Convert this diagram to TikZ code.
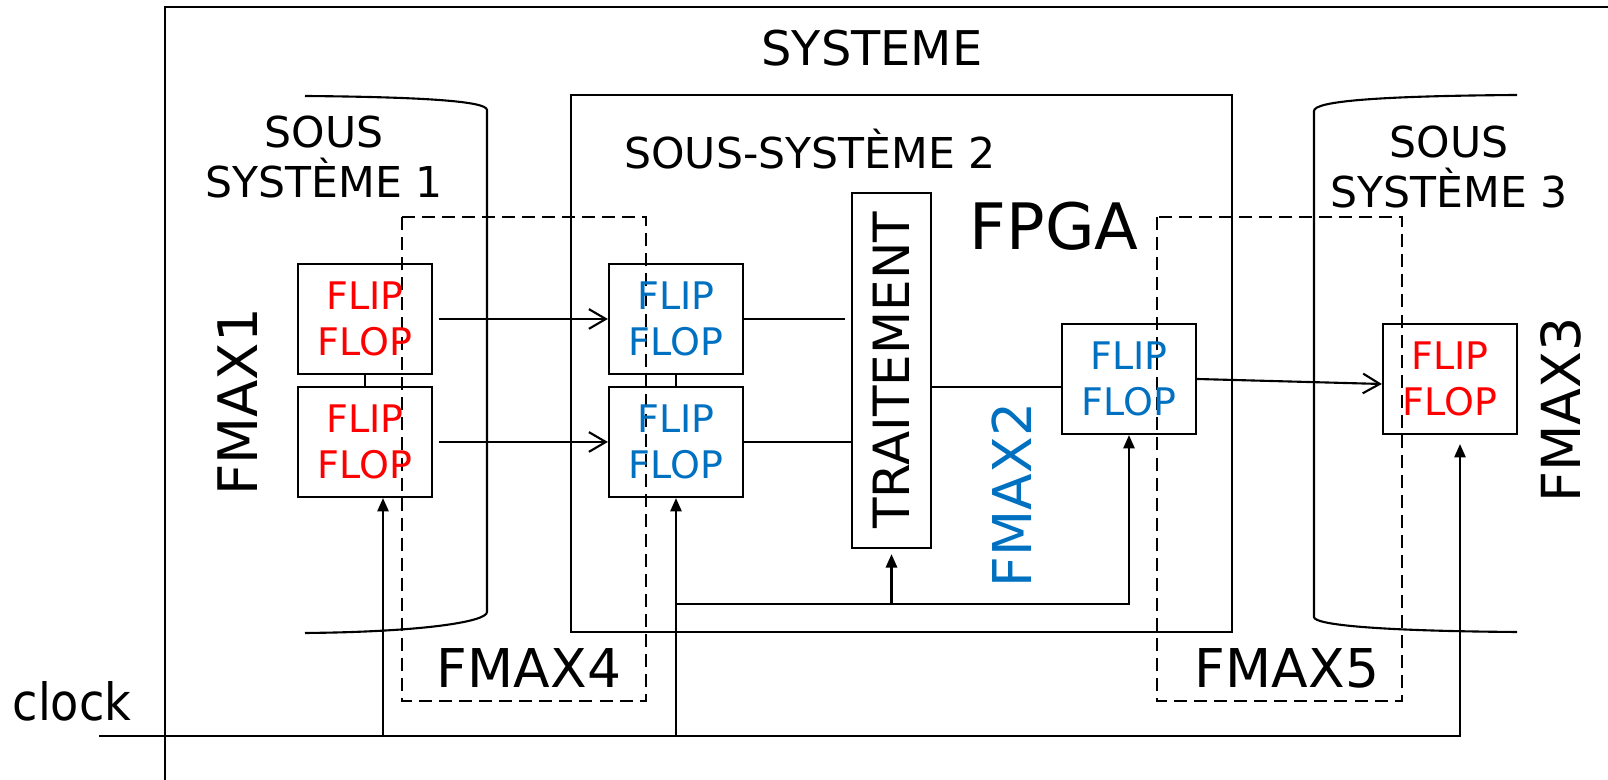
\documentclass[tikz,border=0pt]{standalone}
\usepackage{fontspec}
\setmainfont{DejaVu Sans}
\usetikzlibrary{arrows.meta,positioning,calc}
\definecolor{FFred}{HTML}{FF0000}
\definecolor{FFblue}{HTML}{0070C0}

\begin{document}
\begin{tikzpicture}[x=0.01cm,y=-0.01cm,line width=0.6pt,
  ff/.style={draw,minimum width=1.34cm,minimum height=1.1cm,inner sep=0pt,align=center,font=\fontsize{10.8}{13}\selectfont},
  clktip/.style={-{Triangle[length=3.8pt,width=3.2pt]}},
  datatip/.style={-{Straight Barb[length=4.8pt,width=5.6pt]}},
  dashbox/.style={dash pattern=on 3.7pt off 2pt},
  fmax/.style={font=\fontsize{15.2}{18}\selectfont},
  ss/.style={align=center,font=\fontsize{12.1}{14}\selectfont}]
  \useasboundingbox (0,0) rectangle (1608,780);
  \draw (1608,7) -- (165,7) -- (165,780);
  \node[font=\fontsize{13.6}{16}\selectfont] (sys) at (872,48) {SYSTEME};
  \draw (305,96) .. controls (420,97) and (487,101) .. (487,110) -- (487,612)
    .. controls (487,622) and (420,632) .. (305,633);
  \draw (1517,95) .. controls (1380,96) and (1314,101) .. (1314,111) -- (1314,617)
    .. controls (1314,625) and (1380,631) .. (1517,632);
  \node[ss] (ss1) at (324,157) {SOUS\\SYSTÈME 1};
  \node[ss] (ss3) at (1449,167) {SOUS\\SYSTÈME 3};
  \draw (571,95) rectangle (1232,632);
  \node[ss] (ss2) at (810,149) {SOUS-SYSTÈME 2};
  \node[font=\fontsize{18.2}{22}\selectfont] (fpga) at (1054,226) {FPGA};
  \draw[dashbox] (402,217) rectangle (646,701);
  \draw[dashbox] (1157,217) rectangle (1402,701);
  \foreach \n/\x/\y/\c in {ff1/365/319/FFred,ff2/365/442/FFred,ff3/676/319/FFblue,
    ff4/676/442/FFblue,ff5/1129/379/FFblue,ff6/1450/379/FFred}
    \node[ff,text=\c] (\n) at (\x,\y) {FLIP\\FLOP};
  \node[draw,minimum width=0.79cm,minimum height=3.55cm,inner sep=0pt,
    font=\fontsize{14.2}{17}\selectfont] (trt) at (891.5,370.5) {\rotatebox{90}{TRAITEMENT}};
  \draw (ff1) -- (ff2);
  \draw (ff3) -- (ff4);
  \draw[datatip,shorten <=0.06cm] (ff1.east) -- (ff3.west);
  \draw[datatip,shorten <=0.06cm] (ff2.east) -- (ff4.west);
  \draw[shorten >=0.06cm] (ff3.east) -- (ff3.east -| trt.west);
  \draw (ff4.east) -- (ff4.east -| trt.west);
  \coordinate (t5) at ([yshift=-0.08cm]ff5.west);
  \draw (t5 -| trt.east) -- (t5);
  \draw[datatip] (ff5.east) -- ([yshift=-0.05cm]ff6.west);
  \coordinate (clk) at (99,736);
  \coordinate (bus) at (676,604);
  \draw[clktip,shorten >=0.09cm] (clk) -| ([xshift=0.1cm]ff6.south);
  \draw[clktip] ([xshift=0.18cm]ff2.south |- clk) -- ([xshift=0.18cm]ff2.south);
  \draw[clktip] (ff4.south |- clk) -- (ff4.south);
  \draw[clktip] (bus) -| (ff5.south);
  \draw[clktip,shorten >=0.05cm] (bus -| trt.south) -- (trt.south);
  \node[font=\fontsize{14.6}{17}\selectfont] (clock) at (72,701) {\scalebox{0.9}[1]{clock}};
  \node[rotate=90,font=\fontsize{15.5}{19}\selectfont] (fm1) at (238,402) {FMAX1};
  \node[fmax,rotate=90,text=FFblue] (fm2) at (1012,495) {FMAX2};
  \node[rotate=90,font=\fontsize{15.3}{19}\selectfont] (fm3) at (1561,410) {FMAX3};
  \node[fmax] (fm4) at (529,668) {FMAX4};
  \node[fmax] (fm5) at (1287,668) {FMAX5};
\end{tikzpicture}
\end{document}
